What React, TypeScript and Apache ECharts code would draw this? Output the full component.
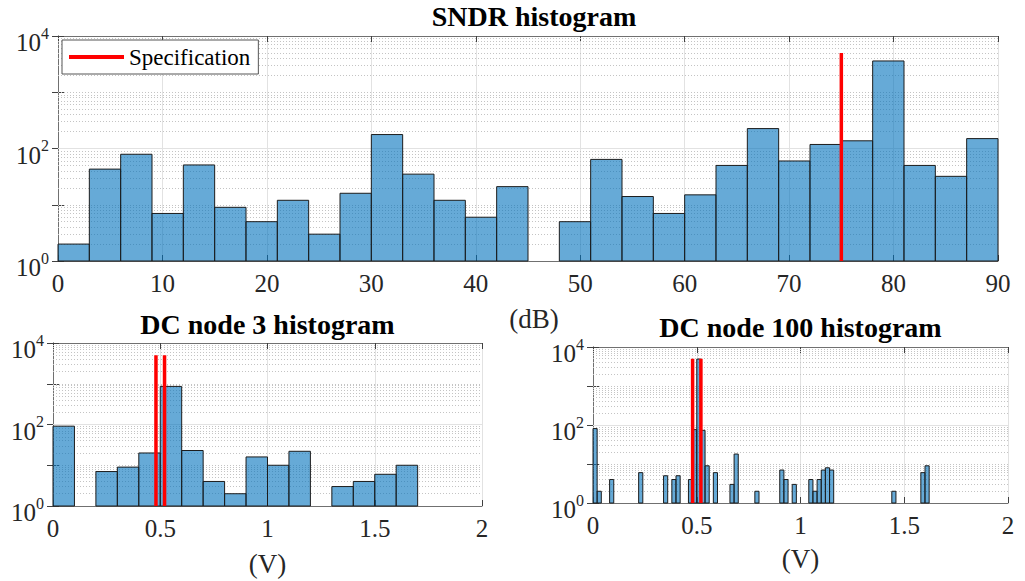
import React, { useEffect, useRef } from 'react';
import * as echarts from 'echarts';

// ---------------- DATA ----------------
const sndrBinWidth = 3;
const sndrBinStarts = [0, 3, 6, 9, 12, 15, 18, 21, 24, 27, 30, 33, 36, 39, 42, 45, 48, 51, 54, 57, 60, 63, 66, 69, 72, 75, 78, 81, 84, 87];
const sndrCounts = [2, 43, 79, 7, 51, 9, 5, 12, 3, 16, 177, 35, 12, 6, 21, 0, 5, 64, 14, 7, 15, 50, 226, 60, 118, 137, 3600, 50, 32, 150];
const sndrSpecs = [75];

const dc3BinWidth = 0.1;
const dc3BinStarts = [0, 0.1, 0.2, 0.3, 0.4, 0.5, 0.6, 0.7, 0.8, 0.9, 1.0, 1.1, 1.2, 1.3, 1.4, 1.5, 1.6, 1.7, 1.8, 1.9];
const dc3Counts = [91, 0, 7, 9, 20, 860, 23, 4, 2, 16, 10, 22, 0, 3, 4, 6, 10, 0, 0, 0];
const dcSpecs = [0.48, 0.52];

const dc100BinWidth = 0.02;
const dc100BinStarts = [0, 0.02, 0.08, 0.22, 0.34, 0.38, 0.4, 0.46, 0.48, 0.5, 0.52, 0.54, 0.58, 0.66, 0.68, 0.78, 0.9, 0.92, 0.96, 1.04, 1.06, 1.08, 1.1, 1.12, 1.14, 1.44, 1.58, 1.6];
const dc100Counts = [81, 2, 4, 6, 5, 4, 5, 4, 76, 4900, 73, 9, 6, 3, 18, 2, 7, 4, 3, 4, 2, 4, 7, 8, 7, 2, 6, 9];

const specRange = [1, 5000];
const yMinorGrid = [2, 3, 4, 5, 6, 7, 8, 9, 10, 20, 30, 40, 50, 60, 70, 80, 90, 200, 300, 400, 500, 600, 700, 800, 900, 1000, 2000, 3000, 4000, 5000, 6000, 7000, 8000, 9000];
const yMajorGrid = [100];

const titles = ['SNDR histogram', 'DC node 3 histogram', 'DC node 100 histogram'];
const xNames = ['(dB)', '(V)', '(V)'];
const legendLabel = 'Specification';

// ---------------- LAYOUT ----------------
const FONT = 'Liberation Serif';
const TXT = '#262626';

const panels = [
  { grid: { left: 58, top: 36, width: 940, height: 225 }, xMin: 0, xMax: 90, xInterval: 10, nameGap: 44, titleY: 16.5, titleDx: 6, nameDx: 12,
    hist: sndrBinStarts.map((s, i) => [s, s + sndrBinWidth, sndrCounts[i]]), specs: sndrSpecs },
  { grid: { left: 53, top: 343, width: 429, height: 163 }, xMin: 0, xMax: 2, xInterval: 0.5, nameGap: 44, titleY: 324, titleDx: 0, nameDx: 0,
    hist: dc3BinStarts.map((s, i) => [s, s + dc3BinWidth, dc3Counts[i]]), specs: dcSpecs },
  { grid: { left: 593, top: 347, width: 415, height: 156 }, xMin: 0, xMax: 2, xInterval: 0.5, nameGap: 42, titleY: 327, titleDx: 0, nameDx: 0,
    hist: dc100BinStarts.map((s, i) => [s, s + dc100BinWidth, dc100Counts[i]]), specs: dcSpecs },
];

function buildOption() {
  const grid: any[] = [];
  const xAxis: any[] = [];
  const yAxis: any[] = [];
  const series: any[] = [];
  const graphic: any[] = [];

  panels.forEach((p, i) => {
    grid.push({ ...p.grid, containLabel: false });
    const axisLine = { show: true, lineStyle: { color: '#707070', width: 1 } };
    const tick = { show: true, inside: true, length: 6, lineStyle: { color: '#404040' } };
    xAxis.push({
      type: 'value', gridIndex: i, position: 'bottom', min: p.xMin, max: p.xMax, interval: p.xInterval,
      axisLine, axisTick: tick,
      axisLabel: {
        fontFamily: FONT, fontSize: 25, color: TXT, margin: 10,
        formatter: (v: number) => `{t|${v}}`,
        rich: { t: { fontFamily: FONT, fontSize: 25, color: TXT } },
      },
      splitLine: { show: true, lineStyle: { color: '#e2e2e2', width: 1 } },
      name: xNames[i], nameLocation: 'middle', nameGap: p.nameGap,
      nameTextStyle: { fontFamily: FONT, fontSize: 27, color: TXT, padding: [0, 0, 0, p.nameDx] },
    });
    xAxis.push({
      type: 'value', gridIndex: i, position: 'top', min: p.xMin, max: p.xMax, interval: p.xInterval,
      axisLine, axisTick: tick, axisLabel: { show: false }, splitLine: { show: false },
    });
    yAxis.push({
      type: 'log', logBase: 10, gridIndex: i, position: 'left', min: 1, max: 10000,
      axisLine, axisTick: tick, splitLine: { show: false },
      axisLabel: {
        margin: 9, padding: [8, 0, 0, 0],
        formatter: (v: number) => {
          const e = Math.round(Math.log10(v));
          return e % 2 === 0 ? `{b|10}{s|${e}}` : '';
        },
        rich: {
          b: { fontFamily: FONT, fontSize: 25, color: TXT, lineHeight: 30, verticalAlign: 'bottom' },
          s: { fontFamily: FONT, fontSize: 16, color: TXT, lineHeight: 12, verticalAlign: 'top' },
        },
      },
    });
    yAxis.push({
      type: 'log', logBase: 10, gridIndex: i, position: 'right', min: 1, max: 10000,
      axisLine, axisTick: tick, axisLabel: { show: false }, splitLine: { show: false },
    });

    // grid lines (minor dotted + major solid) through the log scale
    series.push({
      type: 'line', xAxisIndex: 2 * i, yAxisIndex: 2 * i, data: [], silent: true, z: 1,
      markLine: {
        silent: true, z: 1, symbol: ['none', 'none'], label: { show: false }, animation: false,
        lineStyle: { type: [1, 2], color: '#c4c4c4', width: 1 },
        emphasis: { disabled: true },
        data: [
          ...yMinorGrid.map((v) => ({ yAxis: v })),
          ...yMajorGrid.map((v) => ({ yAxis: v, lineStyle: { type: 'solid', color: '#e2e2e2', width: 1 } })),
        ],
      },
    });

    series.push({
      type: 'custom', xAxisIndex: 2 * i, yAxisIndex: 2 * i, z: 3,
      data: p.hist.filter((d) => d[2] > 0),
      encode: { x: [0, 1], y: 2 },
      renderItem: (params: any, api: any) => {
        const p0 = api.coord([api.value(0), api.value(2)]);
        const p1 = api.coord([api.value(1), 1]);
        return {
          type: 'rect',
          shape: { x: p0[0], y: p0[1], width: p1[0] - p0[0], height: p1[1] - p0[1] },
          style: { fill: 'rgba(0,114,189,0.6)', stroke: '#1c1c1c', lineWidth: 1 },
        };
      },
    });

    p.specs.forEach((s) => {
      series.push({
        type: 'line', name: legendLabel, xAxisIndex: 2 * i, yAxisIndex: 2 * i, z: 5,
        data: [[s, specRange[0]], [s, specRange[1]]],
        symbol: 'none', showSymbol: false,
        lineStyle: { color: '#ff0000', width: 3.5 }, itemStyle: { color: '#ff0000' },
      });
    });

    graphic.push({
      type: 'text', x: p.grid.left + p.grid.width / 2 + p.titleDx, y: p.titleY, silent: true,
      style: { text: titles[i], font: `bold 28px "${FONT}"`, fill: '#000', align: 'center', verticalAlign: 'middle' },
    });
  });

  return {
    animation: false,
    backgroundColor: '#ffffff',
    textStyle: { fontFamily: FONT },
    grid, xAxis, yAxis, series, graphic,
    legend: {
      data: [{ name: legendLabel, icon: 'rect' }], left: 62, top: 40, backgroundColor: '#ffffff', borderColor: '#555', borderWidth: 1,
      padding: [5, 8, 5, 7], itemWidth: 55, itemHeight: 4, selectedMode: false,
      itemStyle: { color: '#ff0000', borderWidth: 0 },
      textStyle: { fontFamily: FONT, fontSize: 23, color: '#000', lineHeight: 24 },
    },
  };
}

export default function App() {
  const ref = useRef<HTMLDivElement>(null);
  useEffect(() => {
    if (!ref.current) return;
    const chart = echarts.init(ref.current, undefined, { renderer: 'svg' });
    chart.setOption(buildOption() as any);
    return () => chart.dispose();
  }, []);
  return <div ref={ref} style={{ position: 'fixed', left: 0, top: 0, width: 1025, height: 581 }} />;
}
